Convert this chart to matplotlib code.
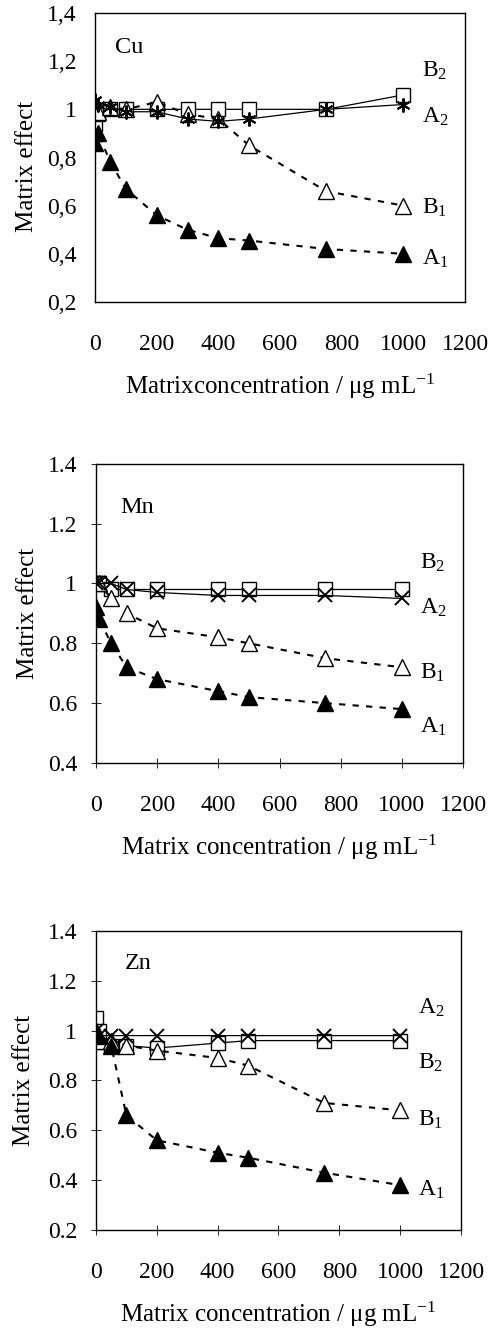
import matplotlib
matplotlib.use("Agg")
import matplotlib.pyplot as plt

plt.rcParams['font.family'] = ['Liberation Serif', 'DejaVu Serif']
plt.rcParams['mathtext.fontset'] = 'custom'
plt.rcParams['mathtext.rm'] = 'Liberation Serif'
plt.rcParams['mathtext.it'] = 'Liberation Serif:italic'

# Data
cu_x = [0, 10, 50, 100, 200, 300, 400, 500, 750, 1000]
cu_a1 = [0.86, 0.90, 0.78, 0.67, 0.56, 0.50, 0.465, 0.455, 0.42, 0.40]
cu_b1 = [1.0, 0.99, 1.01, 1.0, 1.03, 0.98, 0.96, 0.85, 0.66, 0.60]
cu_a2 = [1.04, 1.02, 1.01, 0.99, 0.99, 0.96, 0.95, 0.96, 1.0, 1.02]
cu_b2 = [0.94, 0.98, 1.0, 1.0, 1.0, 1.0, 1.0, 1.0, 1.0, 1.06]

mn_x = [0, 10, 50, 100, 200, 400, 500, 750, 1000]
mn_a1 = [0.92, 0.88, 0.80, 0.72, 0.68, 0.64, 0.62, 0.60, 0.58]
mn_b1 = [1.0, 1.0, 0.95, 0.90, 0.85, 0.82, 0.80, 0.75, 0.72]
mn_a2 = [1.0, 1.0, 1.0, 0.98, 0.97, 0.96, 0.96, 0.96, 0.95]
mn_b2 = [1.0, 1.0, 0.98, 0.98, 0.98, 0.98, 0.98, 0.98, 0.98]

zn_x = [0, 10, 50, 100, 200, 400, 500, 750, 1000]
zn_a1 = [1.0, 0.98, 0.94, 0.66, 0.56, 0.51, 0.49, 0.43, 0.38]
zn_b1 = [0.96, 0.96, 0.96, 0.94, 0.92, 0.89, 0.86, 0.71, 0.68]
zn_a2 = [1.0, 0.98, 0.98, 0.98, 0.98, 0.98, 0.98, 0.98, 0.98]
zn_b2 = [1.05, 1.0, 0.94, 0.94, 0.93, 0.95, 0.96, 0.96, 0.96]

series_names = ['A$_\\mathrm{1}$', 'B$_\\mathrm{1}$', 'A$_\\mathrm{2}$', 'B$_\\mathrm{2}$']
cu_label_y = [0.38, 0.59, 0.97, 1.16]
mn_label_y = [0.52, 0.70, 0.92, 1.07]
zn_label_y = [0.36, 0.64, 1.09, 0.87]

x_ticks = [0, 200, 400, 600, 800, 1000, 1200]

fig = plt.figure(figsize=(4.91, 13.28), dpi=100)

panels = [
    ('Cu', cu_x, cu_a1, cu_b1, cu_a2, cu_b2, cu_label_y, [0.1935, 0.7726, 0.7536, 0.2176], 0.2, 65, 1.255,
     'Matrixconcentration / \u03bcg mL$^{\\mathrm{-1}}$', True, 0.47, 7),
    ('Mn', mn_x, mn_a1, mn_b1, mn_a2, mn_b2, mn_label_y, [0.1955, 0.4255, 0.7475, 0.2252], 0.4, 78, 1.255,
     'Matrix concentration / \u03bcg mL$^{\\mathrm{-1}}$', False, 0.5, 6),
    ('Zn', zn_x, zn_a1, zn_b1, zn_a2, zn_b2, zn_label_y, [0.1955, 0.0738, 0.7434, 0.2252], 0.2, 95, 1.27,
     'Matrix concentration / \u03bcg mL$^{\\mathrm{-1}}$', False, 0.5, 9),
]

for name, x, a1, b1, a2, b2, lab_y, pos, ymin, name_x, name_y, xlab, comma, ylab_pos, ylab_pad in panels:
    ax = fig.add_axes(pos)
    dots = (0, (3, 3.5))
    ax.plot(x, b2, color='black', lw=0.9, marker='s', ms=9.5, mfc='white', mec='black', zorder=2)
    a2_marker = (6, 2, 0) if name == 'Cu' else 'x'
    ax.plot(x, a2, color='black', lw=0.9, marker=a2_marker, ms=10, mew=1.4, zorder=3)
    ax.plot(x, b1, color='black', lw=1.5, ls=dots, marker='^', ms=11, mfc='white', mec='black', zorder=2)
    ax.plot(x, a1, color='black', lw=1.5, ls=dots, marker='^', ms=11, mfc='black', mec='black', zorder=2)

    ax.set_xlim(0, 1200)
    ax.set_ylim(ymin, 1.4)
    ax.set_xticks(x_ticks)
    yt = [round(ymin + 0.2 * i, 1) for i in range(int(round((1.4 - ymin) / 0.2)) + 1)]
    ax.set_yticks(yt)
    if comma:
        ax.set_yticklabels([('%.1f' % v).replace('.', ',') if v != 1 else '1' for v in yt])
        ax.tick_params(axis='both', length=0, labelsize=17)
        ax.tick_params(axis='x', pad=23)
        ax.tick_params(axis='y', pad=13)
    else:
        ax.set_yticklabels(['%.1f' % v if v != 1 else '1' for v in yt])
        ax.tick_params(axis='both', direction='inout', length=7, width=0.6, labelsize=17)
        ax.tick_params(axis='x', pad=19.5)
        ax.tick_params(axis='y', pad=10)

    for s in ax.spines.values():
        s.set_linewidth(1.0)

    ax.set_ylabel('Matrix effect', fontsize=18, labelpad=ylab_pad)
    ax.yaxis.label.set_y(ylab_pos)
    ax.set_xlabel(xlab, fontsize=18, labelpad=12)

    ax.text(name_x, name_y, name, fontsize=17.5, va='center', ha='left')
    for nm, yy in zip(series_names, lab_y):
        ax.text(1060, yy, nm, fontsize=17, va='center', ha='left')

fig.savefig('out.png', dpi=100)
